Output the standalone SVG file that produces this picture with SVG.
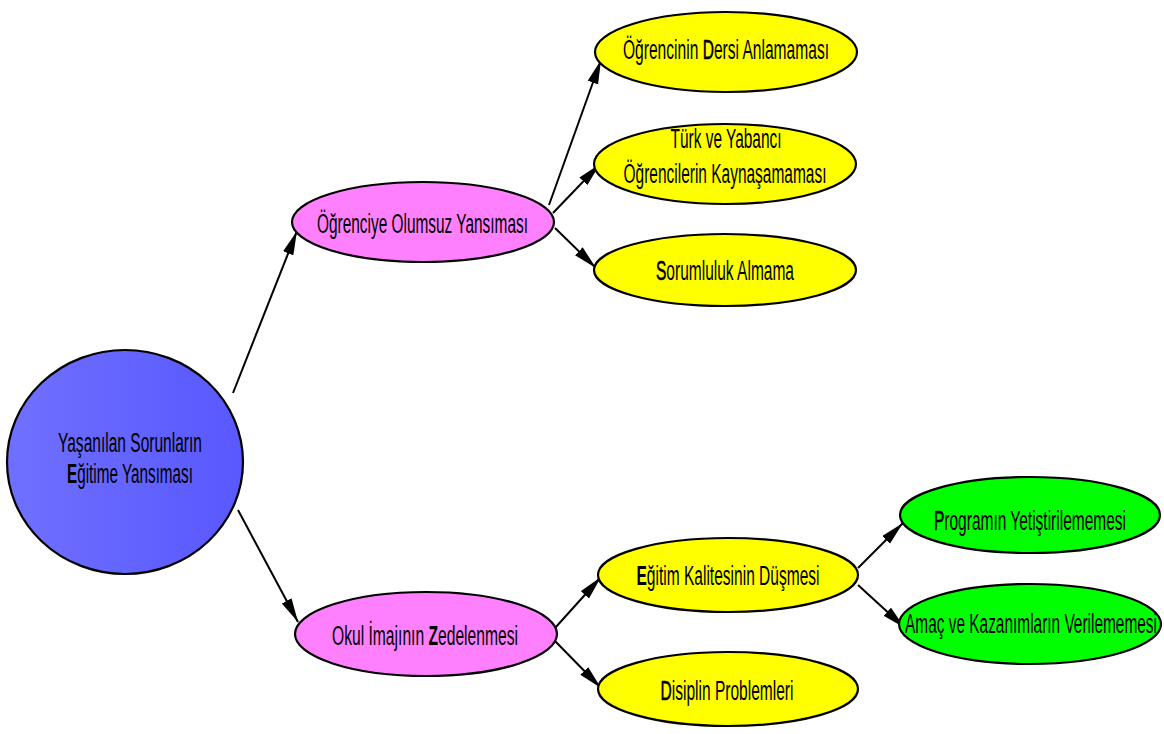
<svg xmlns="http://www.w3.org/2000/svg" width="1164" height="734" viewBox="0 0 1164 734">
<defs>
<linearGradient id="blueGrad" x1="0" y1="0" x2="1" y2="0">
<stop offset="0" stop-color="#7070ff"/>
<stop offset="1" stop-color="#5858ff"/>
</linearGradient>
<marker id="arrow" markerUnits="userSpaceOnUse" markerWidth="26" markerHeight="12" refX="24" refY="5.5" orient="auto">
<path d="M0,0 L24,5.5 L0,11 z" fill="#000"/>
</marker>
<style>
.node ellipse{stroke:#000;stroke-width:2.2}
.pink{fill:#ff80ff}
.yellow{fill:#ffff00}
.green{fill:#00ff00}
.root{fill:url(#blueGrad)}
text{font-family:"Liberation Sans",Arial,sans-serif;font-size:27px;fill:#000;text-anchor:middle}
.b{font-weight:bold}
.sb{stroke:#000;stroke-width:0.6}
.conn line{stroke:#000;stroke-width:2;marker-end:url(#arrow)}
</style>
</defs>
<rect width="1164" height="734" fill="#fff"/>
<g id="connectors" class="conn">
<line x1="233" y1="393" x2="297" y2="231"/>
<line x1="238" y1="510" x2="298" y2="622"/>
<line x1="549" y1="205" x2="601" y2="60"/>
<line x1="553" y1="213" x2="600" y2="164"/>
<line x1="555" y1="228" x2="596" y2="268"/>
<line x1="555" y1="628" x2="601" y2="577"/>
<line x1="555" y1="641" x2="601" y2="688"/>
<line x1="858" y1="568" x2="903" y2="523"/>
<line x1="858" y1="585" x2="905" y2="628"/>
</g>
<g id="n-root" class="node">
<ellipse class="root" cx="125" cy="462" rx="118" ry="112"/>
<text x="130" y="452" textLength="144" lengthAdjust="spacingAndGlyphs">Yaşanılan Sorunların</text>
<text x="130" y="483" textLength="126" lengthAdjust="spacingAndGlyphs"><tspan class="b">E</tspan>ğitime Yansıması</text>
</g>
<g id="n-ogrenciye" class="node">
<ellipse class="pink" cx="423" cy="222" rx="131" ry="40"/>
<text x="422.5" y="233" textLength="211" lengthAdjust="spacingAndGlyphs">Öğrenciye Olumsuz Yansıması</text>
</g>
<g id="n-okul" class="node">
<ellipse class="pink" cx="426" cy="634" rx="131" ry="42"/>
<text x="425" y="645" textLength="186" lengthAdjust="spacingAndGlyphs">Okul İmajının <tspan class="b">Z</tspan>edelenmesi</text>
</g>
<g id="n-dersi" class="node">
<ellipse class="yellow" cx="726" cy="52" rx="131" ry="40"/>
<text x="726" y="59" textLength="206" lengthAdjust="spacingAndGlyphs">Öğrencinin <tspan class="sb">D</tspan>ersi Anlamaması</text>
</g>
<g id="n-turk" class="node">
<ellipse class="yellow" cx="725" cy="164" rx="131" ry="40"/>
<text x="726" y="148" textLength="111" lengthAdjust="spacingAndGlyphs">Türk ve Yabancı</text>
<text x="725" y="183" textLength="203" lengthAdjust="spacingAndGlyphs">Öğrencilerin Kaynaşamaması</text>
</g>
<g id="n-sorumluluk" class="node">
<ellipse class="yellow" cx="725" cy="270" rx="131" ry="36"/>
<text x="725" y="280" textLength="138" lengthAdjust="spacingAndGlyphs"><tspan class="sb">S</tspan>orumluluk Almama</text>
</g>
<g id="n-kalite" class="node">
<ellipse class="yellow" cx="728" cy="575" rx="130" ry="37"/>
<text x="728" y="585" textLength="183" lengthAdjust="spacingAndGlyphs"><tspan class="b">E</tspan>ğitim Kalitesinin Düşmesi</text>
</g>
<g id="n-disiplin" class="node">
<ellipse class="yellow" cx="728" cy="689" rx="130" ry="37"/>
<text x="727" y="700" textLength="133" lengthAdjust="spacingAndGlyphs"><tspan class="sb">D</tspan>isiplin Problemleri</text>
</g>
<g id="n-program" class="node">
<ellipse class="green" cx="1030" cy="515" rx="130" ry="38"/>
<text x="1030" y="530" textLength="192" lengthAdjust="spacingAndGlyphs"><tspan class="sb">P</tspan>rogramın Yetiştirilememesi</text>
</g>
<g id="n-amac" class="node">
<ellipse class="green" cx="1030" cy="624" rx="131" ry="40"/>
<text x="1031" y="633" textLength="252" lengthAdjust="spacingAndGlyphs">Amaç ve Kazanımların Verilememesi</text>
</g>
</svg>
